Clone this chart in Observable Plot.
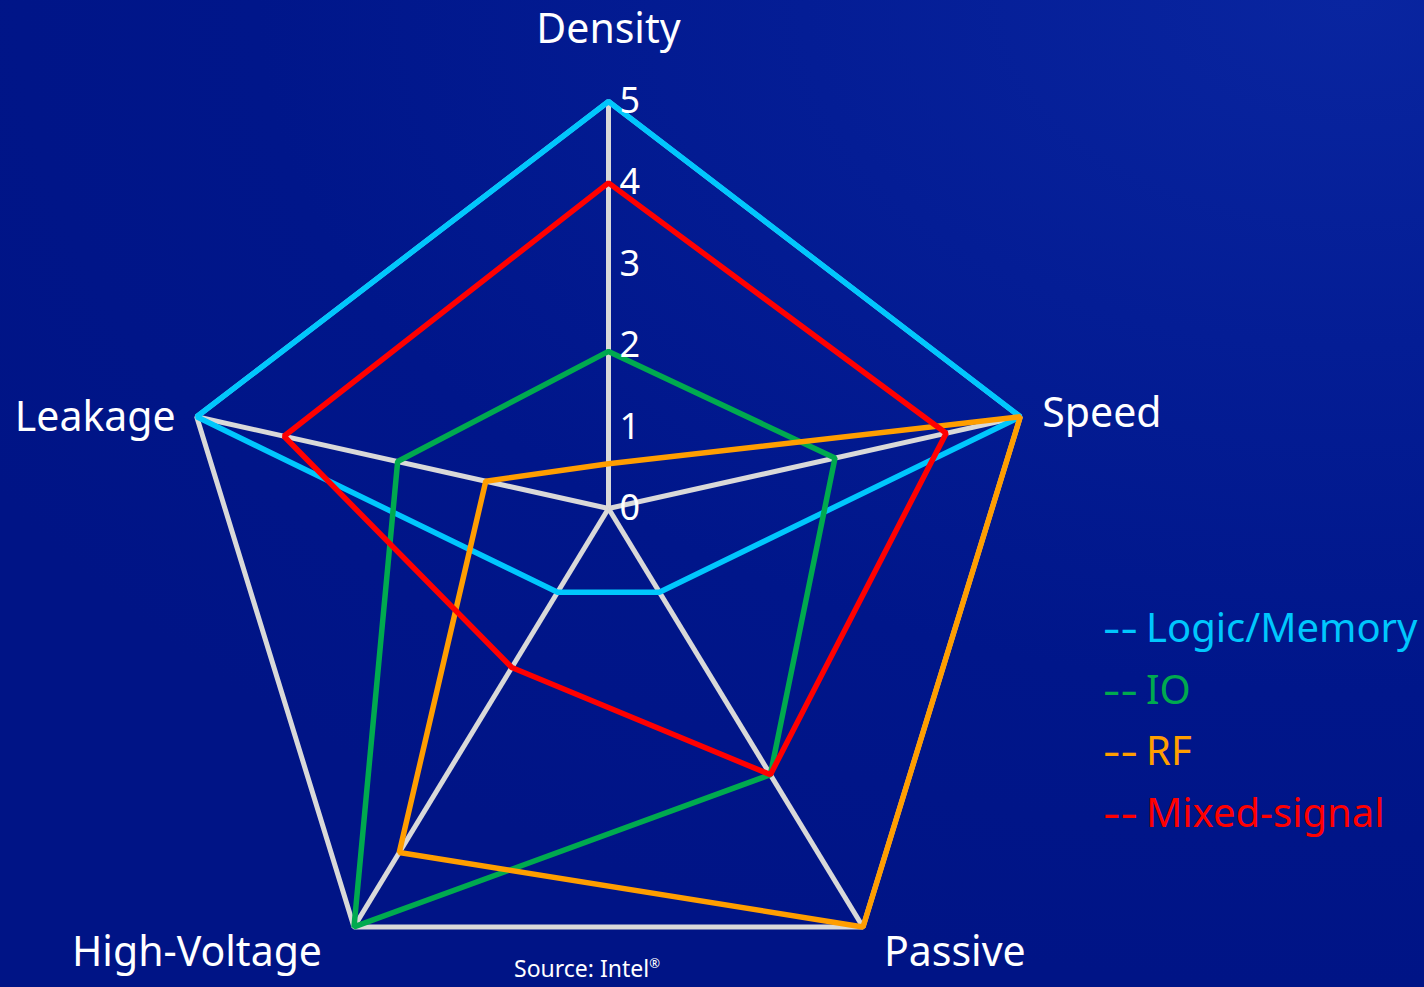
<!DOCTYPE html>
<html>
<head>
<meta charset="utf-8">
<title>Technology options radar</title>
<script src="https://cdn.jsdelivr.net/npm/d3@7"></script>
<script src="https://cdn.jsdelivr.net/npm/@observablehq/plot@0.6"></script>
<style>
  html, body { margin: 0; padding: 0; }
  body {
    width: 1424px; height: 987px; overflow: hidden; position: relative;
    font-family: "Noto Sans", sans-serif;
    background: radial-gradient(ellipse 110% 100% at 95% 0%, #0925a0 0%, #041d95 35%, #00168a 70%, #001486 100%);
  }
  #chart { position: absolute; left: 0; top: 0; }
  #legend { position: absolute; left: 1103px; top: 596px; font-size: 40px; line-height: 61.5px; white-space: nowrap; }
  #legend .row { height: 61.5px; }
  #legend .dash { display: inline-block; width: 43px; }
  #legend .dash span { display: inline-block; transform: scaleX(1.35); transform-origin: 0 50%; }
  #source { position: absolute; left: 514px; top: 957px; height: 23px; font-size: 23px; line-height: 23px; color: #ffffff; white-space: nowrap; }
  #source sup { font-size: 13px; line-height: 0; vertical-align: 9px; }
</style>
</head>
<body>
<div id="chart"></div>
<div id="legend"></div>
<div id="source">Source: Intel<sup>®</sup></div>
<script>
// Radar axes, clockwise from the top
const axes = ["Density", "Speed", "Passive", "High-Voltage", "Leakage"];

// Scores per axis (same order as axes)
const logicMemory = [5, 5, 1, 1, 5];
const io = [1.93, 2.75, 3.18, 5, 2.56];
const rf = [0.55, 5, 5, 4.11, 1.49];
const mixedSignal = [4, 4.1, 3.18, 1.9, 3.94];

const seriesNames = ["Logic/Memory", "IO", "RF", "Mixed-signal"];
const seriesValues = [logicMemory, io, rf, mixedSignal];
const seriesColors = ["#00c7fd", "#00aa4f", "#ff9e00", "#ff0000"];

const tickValues = [0, 1, 2, 3, 4, 5];
const tickLabels = ["0", "1", "2", "3", "4", "5"];
const maxValue = 5;

// Geometry: outer ring is a pentagon in unit coordinates; the spokes meet at a hub
// sitting a little above the pentagon's centre.
const hub = {x: 0, y: 0.108};
function vertex(i) {
  const a = (i * 2 * Math.PI) / axes.length;
  return {x: Math.sin(a), y: Math.cos(a)};
}
function project(i, v) {
  const p = vertex(i), t = v / maxValue;
  return {x: hub.x + t * (p.x - hub.x), y: hub.y + t * (p.y - hub.y)};
}

const ring = axes.map((axis, i) => ({axis, ...project(i, maxValue)}));
const spokes = axes.map((axis, i) => {
  const end = project(i, maxValue);
  return {axis, x1: hub.x, y1: hub.y, x2: end.x, y2: end.y};
});
const seriesPoints = seriesNames.flatMap((series, s) =>
  seriesValues[s].map((value, i) => ({series, axis: axes[i], value, ...project(i, value)}))
);
const ticks = tickValues.map((v, k) => ({label: tickLabels[k], ...project(0, v)}));

// Placement of the axis titles relative to each outer vertex
const titleLayout = [
  {textAnchor: "middle", dx: 0, dy: -72},
  {textAnchor: "start", dx: 22, dy: -3},
  {textAnchor: "start", dx: 21, dy: 26},
  {textAnchor: "end", dx: -32, dy: 26},
  {textAnchor: "end", dx: -21, dy: 1}
];

const font = "Noto Sans";
const grey = "#d9d9d9";

const chart = Plot.plot({
  width: 1424,
  height: 987,
  margin: 0,
  x: {domain: [-1, 1], range: [175, 1041], axis: null},
  y: {domain: [-1, 1], range: [1013.6, 101], axis: null},
  color: {domain: seriesNames, range: seriesColors},
  style: {background: "transparent", overflow: "visible"},
  marks: [
    Plot.link(spokes, {x1: "x1", y1: "y1", x2: "x2", y2: "y2", stroke: grey, strokeWidth: 5}),
    Plot.line(ring, {x: "x", y: "y", curve: "linear-closed", stroke: grey, strokeWidth: 5, strokeLinejoin: "miter"}),
    Plot.line(seriesPoints, {
      x: "x", y: "y", z: "series", stroke: "series",
      curve: "linear-closed", strokeWidth: 5.5, strokeLinejoin: "miter"
    }),
    Plot.text(ticks, {
      x: "x", y: "y", text: "label", fill: "white", fontSize: 36,
      fontFamily: font, textAnchor: "start", dx: 11
    }),
    ...axes.map((axis, i) => Plot.text([ring[i]], {
      x: "x", y: "y", text: () => axis, fill: "white", fontSize: 41,
      fontFamily: font, ...titleLayout[i]
    }))
  ]
});
document.getElementById("chart").append(chart);

// Legend: coloured "--" marker followed by the series name
const legend = d3.select("#legend");
seriesNames.forEach((name, s) => {
  const row = legend.append("div").attr("class", "row").style("color", seriesColors[s]);
  row.append("span").attr("class", "dash").append("span").text("--");
  row.append("span").text(name);
});
</script>
</body>
</html>
